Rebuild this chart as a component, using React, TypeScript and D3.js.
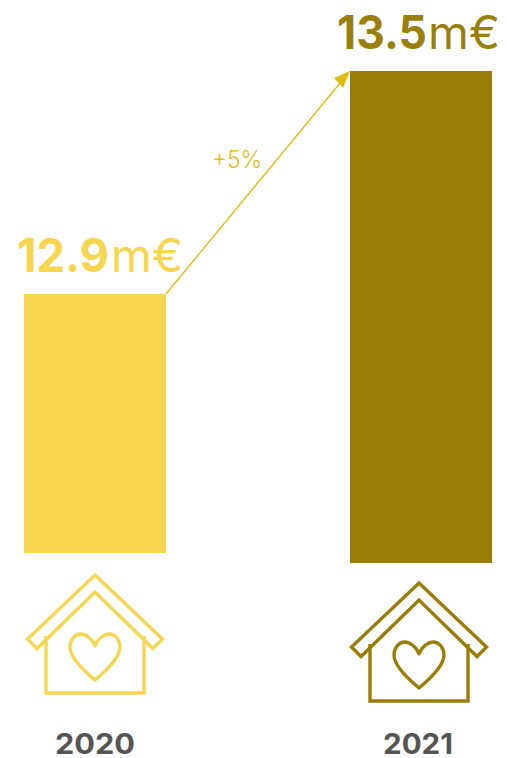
import React from "react";
import * as d3 from "d3";

const years = ["2020", "2021"];
const revenue = [12.9, 13.5];
const growthLabel = "+5%";
const unit = "m€";

const W = 507;
const H = 758;
const colors = ["#F5D64E", "#997D06"];
const labelColors = ["#F5D64E", "#9A7F0C"];
const arrowColor = "#E5BA12";
const font = "Inter, 'Noto Sans', sans-serif";

const x = d3.scalePoint<string>().domain(years).range([95, 421]);
const y = d3.scaleLinear().domain([12.9, 13.5]).range([294, 71]);
const baseline = d3.scaleOrdinal<string, number>().domain(years).range([553, 563]);
const BAR_W = 142;

const numX = [17, 337];
const numW = [92, 90];
const unitX = [111, 428];
const unitW = [72, 72];
const iconDx = [95, 419];
const iconDy = [0, 8];
const yearW = [80, 70];
const yearX = [95, 418];

function House({ cx, dy, color }: { cx: number; dy: number; color: string }) {
  const roof = "M0,575 L67.5,639 L58,648.5 L0,592 L-58,648.5 L-67.5,639 Z";
  const walls = "M-49,636 L-49,693 L49,693 L49,636";
  const heart =
    "M0,646 C-3,638 -10,634 -14,634 C-21,634 -25,641 -25,647 C-25,657 -12,670 0,680 C12,670 25,657 25,647 C25,641 21,634 14,634 C10,634 3,638 0,646 Z";
  return (
    <g transform={`translate(${cx},${dy})`} fill="none" stroke={color} strokeWidth={3.4} strokeLinejoin="miter">
      <path d={roof} />
      <path d={walls} />
      <path d={heart} strokeLinejoin="round" />
    </g>
  );
}

export default function App() {
  const x0 = x(years[0])! + BAR_W / 2;
  const start: [number, number] = [x0, y(revenue[0])];
  const end: [number, number] = [x(years[1])! - BAR_W / 2, y(revenue[1])];
  const line = d3.line();
  const ang = Math.atan2(end[1] - start[1], end[0] - start[0]);
  const stem: [number, number] = [end[0] - 10 * Math.cos(ang), end[1] - 10 * Math.sin(ang)];
  return (
    <svg width={W} height={H} viewBox={`0 0 ${W} ${H}`} style={{ position: "absolute", left: 0, top: 0, display: "block" }} fontFamily={font}>
      {years.map((yr, i) => {
        const bx = x(yr)! - BAR_W / 2;
        const top = y(revenue[i]);
        return (
          <g key={yr}>
            <rect x={bx} y={top} width={BAR_W} height={baseline(yr) - top} fill={colors[i]} />
            <text x={numX[i]} y={top - 22.5} fontSize={46} fontWeight={700} fill={labelColors[i]} textLength={numW[i]} lengthAdjust="spacingAndGlyphs">
              {revenue[i].toFixed(1)}
            </text>
            <text x={unitX[i]} y={top - 22.5} fontSize={46} fontWeight={400} fill={labelColors[i]} textLength={unitW[i]} lengthAdjust="spacingAndGlyphs">
              {unit}
            </text>
            <House cx={iconDx[i]} dy={iconDy[i]} color={colors[i]} />
            <text x={yearX[i]} y={754} textAnchor="middle" fontSize={28.5} fontWeight={700} fill="#555555" textLength={yearW[i]} lengthAdjust="spacingAndGlyphs">
              {yr}
            </text>
          </g>
        );
      })}
      <path d={line([start, stem])!} fill="none" stroke={arrowColor} strokeWidth={1.4} />
      <polygon
        points={`${end[0]},${end[1]} ${end[0] - 16},${end[1] + 7} ${end[0] - 7},${end[1] + 17}`}
        fill={arrowColor}
      />
      <text x={212} y={168} fontSize={24} fontWeight={300} fill={arrowColor} textLength={50} lengthAdjust="spacingAndGlyphs">
        {growthLabel}
      </text>
    </svg>
  );
}
